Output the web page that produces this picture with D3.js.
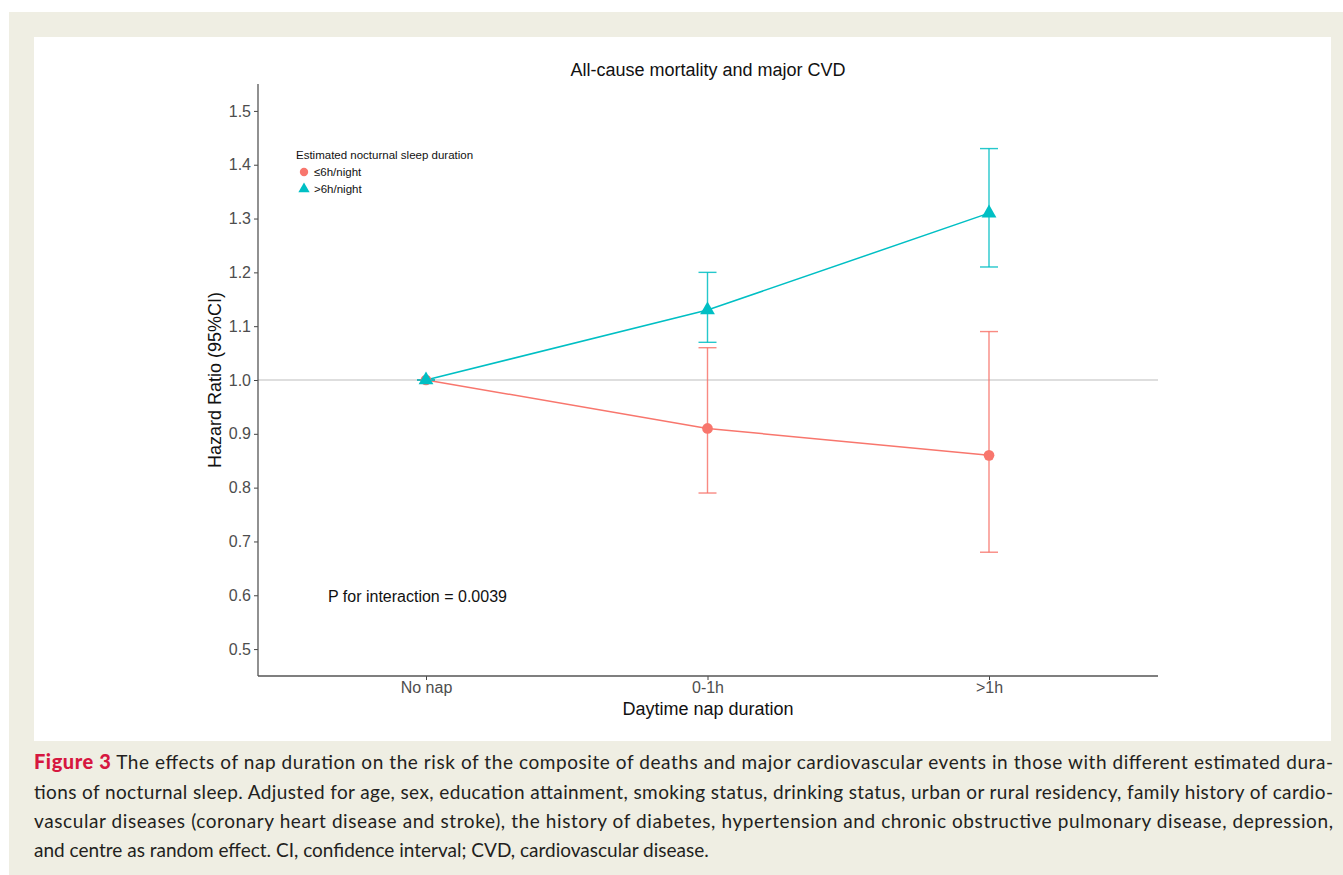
<!DOCTYPE html>
<html><head><meta charset="utf-8">
<script src="https://cdn.jsdelivr.net/npm/d3@7"></script>
<style>body{margin:0;background:#fff;} svg{display:block;}</style>
</head><body>
<script>
const categories = ["No nap", "0-1h", ">1h"];
const groups = ["≤6h/night", ">6h/night"];
const hrShort = [1.00, 0.91, 0.86];
const loShort = [1.00, 0.79, 0.68];
const hiShort = [1.00, 1.06, 1.09];
const hrLong = [1.00, 1.13, 1.31];
const loLong = [1.00, 1.07, 1.21];
const hiLong = [1.00, 1.20, 1.43];
const yTicks = [0.5, 0.6, 0.7, 0.8, 0.9, 1.0, 1.1, 1.2, 1.3, 1.4, 1.5];
const captionLines = [
  "The effects of nap duration on the risk of the composite of deaths and major cardiovascular events in those with different estimated dura-",
  "tions of nocturnal sleep. Adjusted for age, sex, education attainment, smoking status, drinking status, urban or rural residency, family history of cardio-",
  "vascular diseases (coronary heart disease and stroke), the history of diabetes, hypertension and chronic obstructive pulmonary disease, depression,",
  "and centre as random effect. CI, confidence interval; CVD, cardiovascular disease."
];

const W = 1343, H = 875;
const svg = d3.select("body").append("svg").attr("width", W).attr("height", H);
svg.append("rect").attr("x", 9).attr("y", 12).attr("width", W - 9).attr("height", H - 12).attr("fill", "#efeee3");
svg.append("rect").attr("x", 34).attr("y", 37).attr("width", 1331 - 34).attr("height", 741 - 37).attr("fill", "#fff");

const x = d3.scalePoint().domain(categories).range([426, 989]);
const y = d3.scaleLinear().domain([0.45, 1.55]).range([676, 84]);
const left = 258, right = 1158;

const font = "'Liberation Sans', Arial, sans-serif";

// title
svg.append("text").attr("x", 708).attr("y", 76).attr("text-anchor", "middle")
  .attr("font-family", font).attr("font-size", 18).attr("fill", "#111").text("All-cause mortality and major CVD");

// ref line
svg.append("line").attr("x1", left).attr("x2", right).attr("y1", y(1)).attr("y2", y(1))
  .attr("stroke", "#bdbdbd").attr("stroke-width", 1.2);

// axes
const yAxis = svg.append("g").attr("transform", `translate(${left},0)`)
  .call(d3.axisLeft(y).tickValues(yTicks).tickFormat(d3.format(".1f")).tickSize(4).tickPadding(3));
const xAxis = svg.append("g").attr("transform", `translate(0,${676})`)
  .call(d3.axisBottom(x).tickSize(4).tickPadding(2));
[yAxis, xAxis].forEach(g => {
  g.select(".domain").remove();
  g.selectAll(".tick line").attr("stroke", "#444");
  g.selectAll(".tick text").attr("font-family", font).attr("font-size", 16).attr("fill", "#4d4d4d");
});
svg.append("line").attr("x1", left).attr("x2", left).attr("y1", 84).attr("y2", 676).attr("stroke", "#555").attr("stroke-width", 1.3);
svg.append("line").attr("x1", left).attr("x2", right).attr("y1", 676).attr("y2", 676).attr("stroke", "#555").attr("stroke-width", 1.3);

// axis labels
svg.append("text").attr("x", 708).attr("y", 715).attr("text-anchor", "middle")
  .attr("font-family", font).attr("font-size", 18).attr("fill", "#111").text("Daytime nap duration");
svg.append("text").attr("transform", `translate(221,${y(1)}) rotate(-90)`).attr("text-anchor", "middle")
  .attr("font-family", font).attr("font-size", 18).attr("fill", "#111").text("Hazard Ratio (95%CI)");

const series = [
  {name: groups[0], hr: hrShort, lo: loShort, hi: hiShort, color: "#F8766D", shape: d3.symbolCircle, size: 90},
  {name: groups[1], hr: hrLong, lo: loLong, hi: hiLong, color: "#00BFC4", shape: d3.symbolTriangle, size: 95}
];
const line = d3.line().x((d, i) => x(categories[i])).y(d => y(d));
series.forEach(s => {
  const g = svg.append("g");
  categories.forEach((c, i) => {
    const cx = x(c);
    g.append("line").attr("x1", cx).attr("x2", cx).attr("y1", y(s.lo[i])).attr("y2", y(s.hi[i])).attr("stroke", s.color).attr("stroke-width", 1.4).attr("opacity", 0.85);
    [s.lo[i], s.hi[i]].forEach(v => g.append("line").attr("x1", cx - 9).attr("x2", cx + 9).attr("y1", y(v)).attr("y2", y(v)).attr("stroke", s.color).attr("stroke-width", 1.4).attr("opacity", 0.85));
  });
  g.append("path").attr("d", line(s.hr)).attr("fill", "none").attr("stroke", s.color).attr("stroke-width", 1.5);
});
series.forEach(s => {
  svg.append("g").selectAll("path").data(s.hr).join("path")
    .attr("transform", (d, i) => `translate(${x(categories[i])},${y(d)})`)
    .attr("d", d3.symbol().type(s.shape).size(s.size)).attr("fill", s.color);
});

// legend
svg.append("text").attr("x", 296).attr("y", 159).attr("font-family", font).attr("font-size", 11.5).attr("fill", "#111").text("Estimated nocturnal sleep duration");
series.forEach((s, i) => {
  const ly = 172 + i * 17;
  svg.append("path").attr("transform", `translate(304,${ly})`).attr("d", d3.symbol().type(s.shape).size(55)).attr("fill", s.color);
  svg.append("text").attr("x", 314).attr("y", ly + 4).attr("font-family", font).attr("font-size", 11.5).attr("fill", "#111").text(s.name);
});

// annotation
svg.append("text").attr("x", 328).attr("y", 602).attr("font-family", font).attr("font-size", 16).attr("fill", "#111").text("P for interaction = 0.0039");

// caption
const capFont = "Lato, 'Open Sans', sans-serif";
const capY = [769, 799, 828, 857];
const t0 = svg.append("text").attr("x", 34).attr("y", capY[0]).attr("font-family", capFont).attr("font-size", 19).attr("fill", "#231f20");
t0.append("tspan").attr("font-weight", "900").attr("font-size", 20).attr("fill", "#d6173f").text("Figure 3");
t0.append("tspan").text("\u00a0" + captionLines[0]);
captionLines.forEach((l, i) => {
  if (i === 0) return;
  const t = svg.append("text").attr("x", 34).attr("y", capY[i]).attr("font-family", capFont).attr("font-size", 19).attr("fill", "#231f20").text(l);
  if (i < 3) t.attr("textLength", 1333 - 34).attr("lengthAdjust", "spacing");
});
t0.attr("textLength", 1333 - 34).attr("lengthAdjust", "spacing");
</script>
</body></html>
